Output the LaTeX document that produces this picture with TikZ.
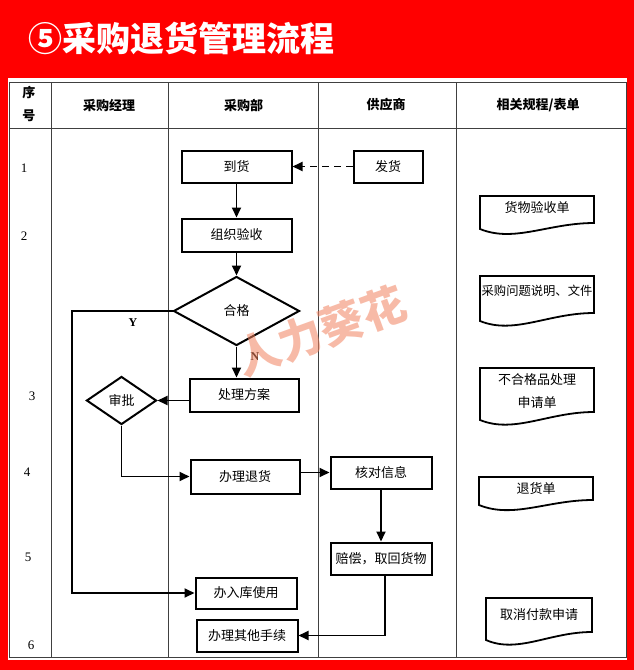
\documentclass[tikz,border=0pt]{standalone}
\usepackage{fontspec}
\setmainfont{Liberation Serif}
\newfontfamily\cjk{Noto Sans CJK SC}
\usetikzlibrary{arrows.meta,shapes.geometric}
\definecolor{bgred}{RGB}{255,0,0}
\definecolor{wmark}{RGB}{242,130,95}
\newcommand\docshape[5]{% x1 x2 top yleft yright
  \draw[docline] (#1,#4) -- (#1,#3) -- (#2,#3) -- (#2,#5)
    .. controls ({#1+0.6*(#2-#1)},#5) and ({#1+0.3*(#2-#1)},{#4+14}) .. (#1,#4) -- cycle;}
\begin{document}
\begin{tikzpicture}[x=1pt,y=-1pt,
  every node/.style={inner sep=0pt},
  cn/.style={font=\cjk\fontsize{13}{16}\selectfont},
  hd/.style={font=\cjk\bfseries\fontsize{13}{16}\selectfont},
  num/.style={font=\fontsize{13}{15}\selectfont},
  proc/.style={cn, draw=black, line width=2pt, fill=white, minimum width=#1, minimum height=32pt},
  dec/.style={cn, diamond, draw=black, line width=2pt, fill=white},
  gridline/.style={draw=black!75, line width=0.9pt},
  arr/.style={line width=1.8pt, -{Triangle[length=10pt,width=9pt]}},
  docline/.style={draw=black, line width=1.8pt},
  yn/.style={font=\bfseries\fontsize{12}{14}\selectfont}]
\useasboundingbox (0,0) rectangle (634,670);
% background
\fill[bgred] (0,0) rectangle (634,670);
\fill[white] (8,78) rectangle (627,660);
\node[anchor=west, text=white, font=\cjk\bfseries\fontsize{34}{34}\selectfont] (title) at (28,38) {⑤采购退货管理流程};
% table
\draw[gridline] (9,82) rectangle (626,657);
\draw[gridline] (9,128) -- (626,128);
\foreach \cx in {51,168,318,456} \draw[gridline] (\cx,82) -- (\cx,657);
% header
\node[hd] (h0a) at (29,93) {序};
\node[hd] (h0b) at (29,116) {号};
\node[hd] (h1) at (109,105) {采购经理};
\node[hd] (h2) at (243.5,105) {采购部};
\node[hd] (h3) at (386,105) {供应商};
\node[hd] (h4) at (538,105) {相关规程/表单};
% row numbers
\node[num] (r1) at (24,168) {1};
\node[num] (r2) at (24,236) {2};
\node[num] (r3) at (32,396) {3};
\node[num] (r4) at (27,472) {4};
\node[num] (r5) at (28,557) {5};
\node[num] (r6) at (31,645) {6};
% process nodes
\node[proc=110] (arrive) at (236.5,166.5) {到货};
\node[proc=69] (ship) at (388,166.5) {发货};
\node[proc=110, minimum height=33pt] (inspect) at (236.5,235) {组织验收};
\node[dec, minimum width=126pt, minimum height=69pt] (ok) at (236.5,311) {合格};
\node[proc=109, minimum height=33pt] (plan) at (244,395) {处理方案};
\node[dec, minimum width=70pt, minimum height=48pt] (appr) at (121.5,400.5) {审批};
\node[proc=109, minimum height=34pt] (ret) at (245,476.5) {办理退货};
\node[proc=101] (check) at (381,472.5) {核对信息};
\node[proc=101] (comp) at (381,558.5) {赔偿，取回货物};
\node[proc=101, minimum height=31pt] (stock) at (246,593) {办入库使用};
\node[proc=101] (other) at (247,635.5) {办理其他手续};
% connectors
\coordinate (ybend) at (72,0);
\draw[arr] (arrive) -- (inspect);
\draw[arr] (inspect) -- (ok);
\draw[arr, dash pattern=on 7pt off 5pt] (ship) -- (arrive);
\draw[arr] (ok.south) -- (ok.south |- plan.north);
\draw[arr] (ok.west) -- (ok.west -| ybend) -- (ybend |- stock.west) -- (stock.west);
\draw[arr] (plan.west |- appr.east) -- (appr.east);
\draw[arr] (appr.south) |- (ret.west);
\draw[arr] (ret.east |- check.west) -- (check.west);
\draw[arr] (check) -- (comp);
\draw[arr] ([xshift=4pt]comp.south) |- (other.east);
\node[yn] (ylab) at (133,323) {Y};
\node[yn] (nlab) at (255,357) {N};
% documents
\docshape{480}{594}{196}{229}{223}
\node[cn] (doc1) at (537,208) {货物验收单};
\docshape{480}{594}{276}{321}{313}
\node[font=\cjk\fontsize{12.3}{15}\selectfont] (doc2) at (537,291) {采购问题说明、文件};
\docshape{480}{594}{368}{420}{412}
\node[font=\cjk\fontsize{13}{23}\selectfont, align=center] (doc3) at (537,391.5) {不合格品处理\\申请单};
\docshape{479}{593}{477}{505}{500}
\node[cn] (doc4) at (536,489) {退货单};
\docshape{486}{592}{598}{640}{632}
\node[cn] (doc5) at (539,615) {取消付款申请};
% watermark
\node[rotate=20, text=wmark, opacity=0.55, font=\cjk\bfseries\fontsize{44}{44}\selectfont] (wm) at (321,331) {人力葵花};
\end{tikzpicture}
\end{document}
